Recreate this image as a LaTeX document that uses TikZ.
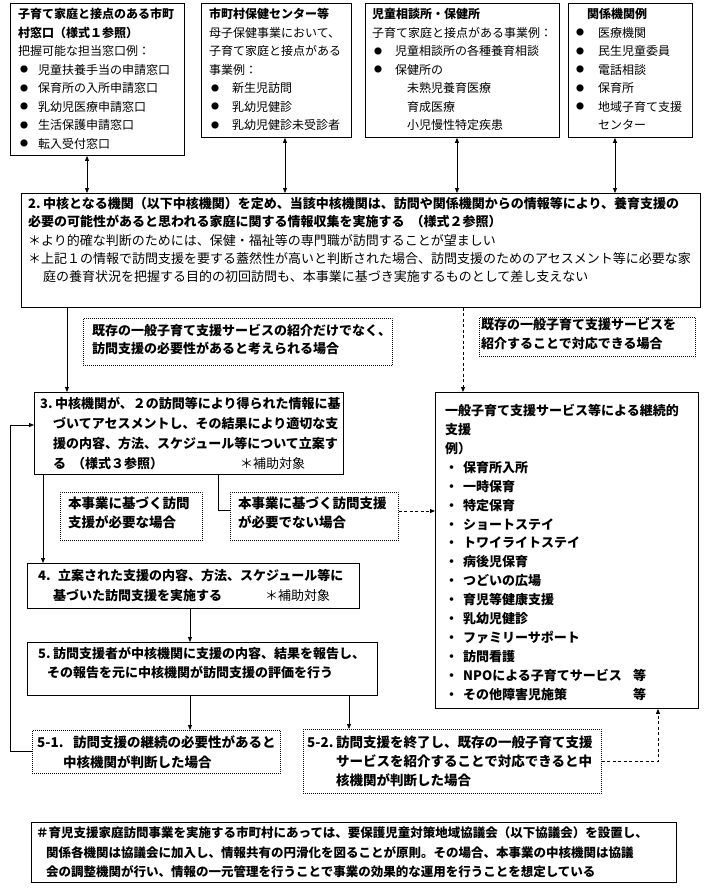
\documentclass[tikz,border=0pt]{standalone}
\usepackage{fontspec}
\setmainfont{Noto Sans CJK JP}
\usetikzlibrary{arrows.meta,calc}
\newcommand{\firstl}{\rule{0pt}{14pt}}
\newcommand{\mybul}[1]{\hspace{2pt}\makebox[#1][l]{\raisebox{1.6pt}{\fontsize{8}{8}\selectfont ●}}}
\newcommand{\mydot}{\makebox[18pt][l]{・}}
\begin{document}
\begin{tikzpicture}[x=1pt,y=-1pt,
  box/.style={draw, line width=0.9pt, inner sep=0pt, anchor=north west},
  lbl/.style={draw, line width=0.7pt, dash pattern=on 0.8pt off 1.2pt, inner sep=0pt, anchor=north west},
  txt/.style={anchor=north west, inner sep=0pt, align=left},
  conn/.style={line width=0.8pt},
  arr/.style={conn, -{Triangle[length=5pt,width=4pt]}},
  darr/.style={conn, {Triangle[length=5pt,width=4pt]}-{Triangle[length=5pt,width=4pt]}},
  dasharr/.style={arr, dash pattern=on 3pt off 2.5pt}]
\useasboundingbox (0,0) rectangle (705,891);
\fill[white] (0,0) rectangle (705,891);

% boxes
\node[box, minimum width=174pt, minimum height=152pt] (n1) at (10,3) {};
\node[box, minimum width=150pt, minimum height=134pt] (n2) at (201,3) {};
\node[box, minimum width=194pt, minimum height=134pt] (n3) at (365,3) {};
\node[box, minimum width=124pt, minimum height=134pt] (n4) at (568,3) {};
\node[box, minimum width=679pt, minimum height=114pt] (b2) at (21,193) {};
\node[lbl, minimum width=309pt, minimum height=47pt] (l1) at (83,318) {};
\node[lbl, minimum width=216pt, minimum height=39pt] (l2) at (479,317) {};
\node[box, minimum width=309pt, minimum height=82pt] (b3) at (34,392) {};
\node[box, minimum width=263pt, minimum height=316pt] (rb) at (435,392) {};
\node[lbl, minimum width=142pt, minimum height=48pt] (l3) at (60,492) {};
\node[lbl, minimum width=168pt, minimum height=48pt] (l4) at (230,492) {};
\node[box, minimum width=332pt, minimum height=45pt] (b4) at (27,563) {};
\node[box, minimum width=350pt, minimum height=53pt] (b5) at (27,642) {};
\node[lbl, minimum width=248pt, minimum height=43pt] (l51) at (32,730) {};
\node[lbl, minimum width=298pt, minimum height=64pt] (l52) at (303,729) {};
\node[box, minimum width=645pt, minimum height=60pt] (nb) at (31,822) {};

% texts
\node[txt, font=\fontsize{12}{18.5}\selectfont] (t1) at (18,4.6) {%
\firstl{\bfseries 子育て家庭と接点のある市町}\\
{\bfseries 村窓口（様式１参照）}\\
把握可能な担当窓口例：\\
\mybul{18pt}児童扶養手当の申請窓口\\
\mybul{18pt}保育所の入所申請窓口\\
\mybul{18pt}乳幼児医療申請窓口\\
\mybul{18pt}生活保護申請窓口\\
\mybul{18pt}転入受付窓口};
\node[txt, font=\fontsize{12}{18.5}\selectfont] (t2) at (209,4.6) {%
\firstl{\bfseries 市町村保健センター等}\\
母子保健事業において、\\
子育て家庭と接点がある\\
事業例：\\
\mybul{21pt}新生児訪問\\
\mybul{21pt}乳幼児健診\\
\mybul{21pt}乳幼児健診未受診者};
\node[txt, font=\fontsize{12}{18.5}\selectfont] (t3) at (372,4.6) {%
\firstl{\bfseries 児童相談所・保健所}\\
子育て家庭と接点がある事業例：\\
\mybul{21pt}児童相談所の各種養育相談\\
\mybul{21pt}保健所の\\
\hspace{35pt}未熟児養育医療\\
\hspace{35pt}育成医療\\
\hspace{35pt}小児慢性特定疾患};
\node[txt, font=\fontsize{12}{18.5}\selectfont] (t4) at (574,4.6) {%
\firstl\hspace{13pt}{\bfseries 関係機関例}\\
\mybul{22pt}医療機関\\
\mybul{22pt}民生児童委員\\
\mybul{22pt}電話相談\\
\mybul{22pt}保育所\\
\mybul{22pt}地域子育て支援\\
\hspace{24pt}センター};
\node[txt, font=\fontsize{13}{18.3}\selectfont] (t5) at (28,194.2) {%
\firstl{\bfseries \makebox[15pt][l]{2.}中核となる機関（以下中核機関）を定め、当該中核機関は、訪問や関係機関からの情報等により、養育支援の}\\
{\bfseries 必要の可能性があると思われる家庭に関する情報収集を実施する\hspace{6pt}（様式２参照）}\\
＊より的確な判断のためには、保健・福祉等の専門職が訪問することが望ましい\\
＊上記１の情報で訪問支援を要する蓋然性が高いと判断された場合、訪問支援のためのアセスメント等に必要な家\\
\hspace{15pt}庭の養育状況を把握する目的の初回訪問も、本事業に基づき実施するものとして差し支えない};
\node[txt, font=\fontsize{13}{18}\selectfont\bfseries] (t6) at (92,320.9) {%
\firstl 既存の一般子育て支援サービスの紹介だけでなく、\\
訪問支援の必要性があると考えられる場合};
\node[txt, font=\fontsize{13}{19}\selectfont\bfseries] (t7) at (481,314.9) {%
\firstl 既存の一般子育て支援サービスを\\
紹介することで対応できる場合};
\node[txt, font=\fontsize{13}{20}\selectfont\bfseries] (t8) at (40,393.9) {%
\firstl\makebox[15pt][l]{3.}中核機関が、２の訪問等により得られた情報に基\\
\hspace{13pt}づいてアセスメントし、その結果により適切な支\\
\hspace{13pt}援の内容、方法、スケジュール等について立案す\\
\hspace{13pt}\makebox[187pt][l]{る\hspace{6pt}（様式３参照）}{\mdseries ＊補助対象}};
\node[txt, font=\fontsize{13}{18.9}\selectfont\bfseries] (t9) at (445,401.4) {%
\firstl 一般子育て支援サービス等による継続的\\
支援\\
例）\\
\mydot 保育所入所\\
\mydot 一時保育\\
\mydot 特定保育\\
\mydot ショートステイ\\
\mydot トワイライトステイ\\
\mydot 病後児保育\\
\mydot つどいの広場\\
\mydot 育児等健康支援\\
\mydot 乳幼児健診\\
\mydot ファミリーサポート\\
\mydot 訪問看護\\
\mydot \makebox[170pt][l]{NPOによる子育てサービス}等\\
\mydot \makebox[170pt][l]{その他障害児施策}等};
\node[txt, font=\fontsize{13.5}{19}\selectfont\bfseries] (t10) at (68,494.1) {%
\firstl 本事業に基づく訪問\\
支援が必要な場合};
\node[txt, font=\fontsize{13.5}{19}\selectfont\bfseries] (t11) at (238,494.1) {%
\firstl 本事業に基づく訪問支援\\
が必要でない場合};
\node[txt, font=\fontsize{13}{20}\selectfont\bfseries] (t12) at (38,565.9) {%
\firstl\makebox[20pt][l]{4.}立案された支援の内容、方法、スケジュール等に\\
\hspace{15pt}\makebox[212pt][l]{基づいた訪問支援を実施する}{\mdseries ＊補助対象}};
\node[txt, font=\fontsize{13}{19}\selectfont\bfseries] (t13) at (38,643.9) {%
\firstl\makebox[15pt][l]{5.}訪問支援者が中核機関に支援の内容、結果を報告し、\\
\hspace{9pt}その報告を元に中核機関が訪問支援の評価を行う};
\node[txt, font=\fontsize{13.5}{20}\selectfont\bfseries] (t14) at (37,733.1) {%
\firstl\makebox[36pt][l]{5-1.}訪問支援の継続の必要性があると\\
\hspace{26pt}中核機関が判断した場合};
\node[txt, font=\fontsize{13.5}{19}\selectfont\bfseries] (t15) at (307,733.1) {%
\firstl\makebox[29pt][l]{5-2.}訪問支援を終了し、既存の一般子育て支援\\
\hspace{29pt}サービスを紹介することで対応できると中\\
\hspace{29pt}核機関が判断した場合};
\node[txt, font=\fontsize{12.5}{19.5}\selectfont\bfseries] (t16) at (36,823.75) {%
\firstl ＃育児支援家庭訪問事業を実施する市町村にあっては、要保護児童対策地域協議会（以下協議会）を設置し、\\
\hspace{10pt}関係各機関は協議会に加入し、情報共有の円滑化を図ることが原則。その場合、本事業の中核機関は協議\\
\hspace{10pt}会の調整機関が行い、情報の一元管理を行うことで事業の効果的な運用を行うことを想定している};

% connector helper coordinates
\coordinate (x87) at (87,0);
\coordinate (x285) at (285,0);
\coordinate (x457) at (457,0);
\coordinate (x615) at (615,0);
\coordinate (x67) at (67,0);
\coordinate (x463) at (463,0);
\coordinate (x43) at (43,0);
\coordinate (x190) at (190,0);
\coordinate (x349) at (349,0);
\coordinate (x658) at (658,0);
\coordinate (c218) at (218,510);
\coordinate (y511) at (0,511);
\coordinate (fb) at (10,425);

% connectors
\draw[darr] (n1.south -| x87) -- (b2.north -| x87);
\draw[darr] (n2.south -| x285) -- (b2.north -| x285);
\draw[darr] (n3.south -| x457) -- (b2.north -| x457);
\draw[darr] (n4.south -| x615) -- (b2.north -| x615);
\draw[arr] (b2.south -| x67) -- (b3.north -| x67);
\draw[dasharr] (b2.south -| x463) -- (rb.north -| x463);
\draw[arr] (b3.south -| x43) -- (b4.north -| x43);
\draw[conn] (b3.south -| c218) -- (c218) -- (c218 -| l4.west);
\draw[dasharr] (l4.east |- y511) -- (rb.west |- y511);
\draw[arr] (b4.south -| x190) -- (b5.north -| x190);
\draw[arr] (b5.south -| x190) -- (l51.north -| x190);
\draw[arr] (b5.south -| x349) -- (l52.north -| x349);
\draw[arr] (l51.west) -| (fb) -- (fb -| b3.west);
\draw[dasharr] (l52.east) -| (rb.south -| x658);
\end{tikzpicture}
\end{document}
